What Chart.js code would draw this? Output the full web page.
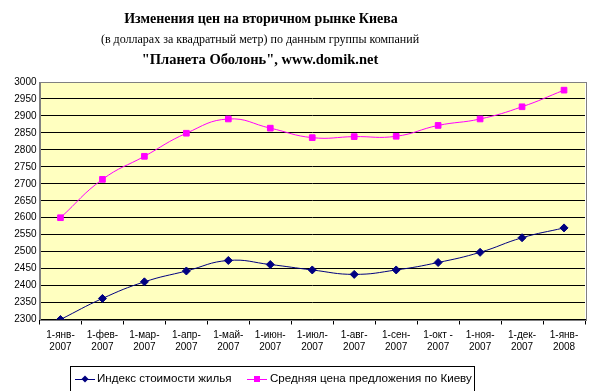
<!DOCTYPE html>
<html>
<head>
<meta charset="utf-8">
<script src="https://cdn.jsdelivr.net/npm/chart.js@4/dist/chart.umd.min.js"></script>
<style>
  html, body { margin: 0; padding: 0; background: #fff; }
  #wrap { width: 607px; height: 391px; position: relative; }
</style>
</head>
<body>
<div id="wrap"><canvas id="priceChart"></canvas></div>
<script>
const months = ['1-янв-', '1-фев-', '1-мар-', '1-апр-', '1-май-', '1-июн-', '1-июл-',
  '1-авг-', '1-сен-', '1-окт -', '1-ноя-', '1-дек-', '1-янв-'];
const years = ['2007', '2007', '2007', '2007', '2007', '2007', '2007',
  '2007', '2007', '2007', '2007', '2007', '2008'];
const housingIndex = [2300, 2362, 2411, 2443, 2474, 2462, 2446, 2433, 2446, 2468, 2498, 2541, 2570];
const avgOfferPrice = [2600, 2713, 2781, 2849, 2891, 2864, 2836, 2839, 2840, 2872, 2891, 2927, 2976];
const titleLines = [
  'Изменения цен на вторичном рынке Киева',
  '(в долларах за квадратный метр) по данным группы компаний',
  '"Планета Оболонь", www.domik.net'
];

const labels = months.map((m, i) => [m, years[i]]);

// fond jaune + cadre gris de la zone de tracé
const plotBg = {
  id: 'plotBg',
  beforeDraw(chart) {
    const { ctx, chartArea: a } = chart;
    ctx.save();
    ctx.fillStyle = '#FFFFC0';
    ctx.fillRect(a.left, a.top, a.right - a.left, a.bottom - a.top);
    ctx.restore();
  },
  afterDatasetsDraw(chart) {
    const { ctx, chartArea: a } = chart;
    ctx.save();
    ctx.strokeStyle = '#808080';
    ctx.lineWidth = 1;
    ctx.strokeRect(Math.round(a.left) + 0.5, Math.round(a.top) + 0.5,
      Math.round(a.right - a.left), Math.round(a.bottom - a.top));
    ctx.restore();
  }
};

// titre en trois lignes
const titleBlock = {
  id: 'titleBlock',
  afterDraw(chart) {
    const ctx = chart.ctx;
    ctx.save();
    ctx.fillStyle = '#000';
    ctx.textAlign = 'center';
    ctx.textBaseline = 'middle';
    ctx.font = 'bold 14px "Liberation Serif"';
    ctx.fillText(titleLines[0], 261, 19);
    ctx.font = '12px "Liberation Serif"';
    ctx.fillText(titleLines[1], 260, 40);
    ctx.font = 'bold 14.5px "Liberation Serif"';
    ctx.fillText(titleLines[2], 260, 60);
    ctx.restore();
  }
};

// légende encadrée avec ligne + marqueur
const boxLegend = {
  id: 'boxLegend',
  afterDraw(chart) {
    const ctx = chart.ctx;
    const x0 = 70.5, y0 = 366.5, w = 404, h = 26;
    ctx.save();
    ctx.fillStyle = '#fff';
    ctx.fillRect(x0, y0, w, h);
    ctx.strokeStyle = '#000';
    ctx.lineWidth = 1;
    ctx.strokeRect(x0, y0, w, h);
    ctx.font = '11.6px "Liberation Sans"';
    ctx.textBaseline = 'middle';
    const cy = 379;
    const items = [{ x: 75, tx: 97 }, { x: 247, tx: 270 }];
    chart.data.datasets.forEach((ds, i) => {
      const it = items[i];
      ctx.strokeStyle = ds.borderColor;
      ctx.lineWidth = 1;
      ctx.beginPath();
      ctx.moveTo(it.x, cy + 0.5);
      ctx.lineTo(it.x + 20, cy + 0.5);
      ctx.stroke();
      ctx.fillStyle = ds.pointBackgroundColor;
      const mx = it.x + 10;
      ctx.beginPath();
      if (ds.pointStyle === 'rectRot') {
        ctx.moveTo(mx, cy - 3.5); ctx.lineTo(mx + 3.5, cy); ctx.lineTo(mx, cy + 3.5); ctx.lineTo(mx - 3.5, cy);
        ctx.closePath();
      } else {
        ctx.rect(mx - 3, cy - 3, 6, 6);
      }
      ctx.fill();
      ctx.fillStyle = '#000';
      ctx.fillText(ds.label, it.tx, cy);
    });
    ctx.restore();
  }
};

new Chart(document.getElementById('priceChart').getContext('2d'), {
  type: 'line',
  data: {
    labels: labels,
    datasets: [{
      label: 'Индекс стоимости жилья',
      data: housingIndex,
      borderColor: '#000080',
      backgroundColor: '#000080',
      pointBackgroundColor: '#000080',
      pointBorderColor: '#000080',
      pointStyle: 'rectRot',
      pointRadius: 4,
      borderWidth: 1,
      tension: 0.45
    }, {
      label: 'Средняя цена предложения по Киеву',
      data: avgOfferPrice,
      borderColor: '#FF00FF',
      backgroundColor: '#FF00FF',
      pointBackgroundColor: '#FF00FF',
      pointBorderColor: '#FF00FF',
      pointStyle: 'rect',
      pointRadius: 4,
      borderWidth: 1,
      tension: 0.45
    }]
  },
  options: {
    responsive: true,
    maintainAspectRatio: false,
    animation: false,
    layout: { padding: { top: 82, right: 22, left: 0, bottom: 0 } },
    plugins: {
      legend: { display: false },
      title: { display: false },
      tooltip: { enabled: false }
    },
    scales: {
      x: {
        offset: true,
        afterFit: s => { s.height = 71.5; },
        grid: {
          offset: true,
          drawOnChartArea: false,
          drawTicks: true,
          tickLength: 5,
          color: '#000'
        },
        border: { color: '#000' },
        ticks: {
          color: '#000',
          font: { family: 'Liberation Sans', size: 10 },
          maxRotation: 0,
          autoSkip: false,
          padding: 5
        }
      },
      y: {
        min: 2300,
        max: 3000,
        afterFit: s => { s.width = 39.5; },
        ticks: {
          stepSize: 50,
          color: '#000',
          font: { family: 'Liberation Sans', size: 10 },
          padding: 3,
          callback: v => String(v)
        },
        grid: { color: '#000', drawTicks: false, lineWidth: 1 },
        border: { color: '#808080' }
      }
    }
  },
  plugins: [plotBg, titleBlock, boxLegend]
});
</script>
</body>
</html>
